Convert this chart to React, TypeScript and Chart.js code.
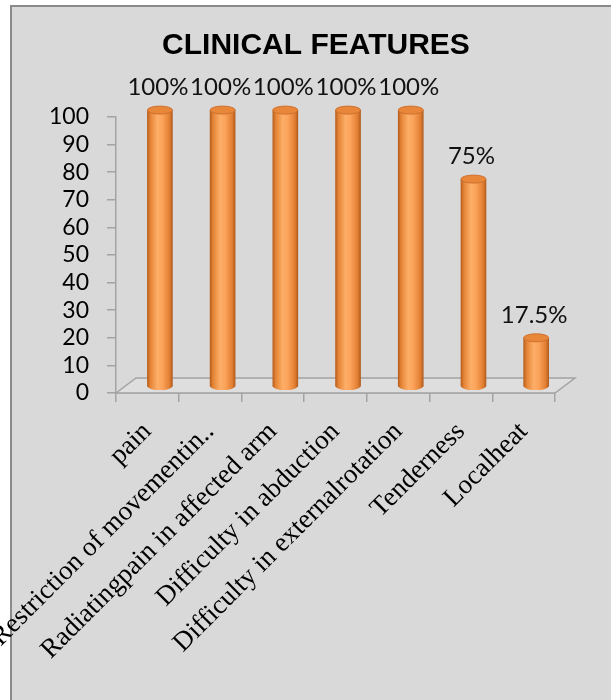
import React, { useEffect, useRef } from 'react';
import { Chart, registerables } from 'chart.js';

Chart.register(...registerables);

const chartTitle = 'CLINICAL FEATURES';
const categories = [
  'pain',
  'Restriction of movementin..',
  'Radiatingpain in affected arm',
  'Difficulty in abduction',
  'Difficulty in externalrotation',
  'Tenderness',
  'Localheat',
];
const values = [100, 100, 100, 100, 100, 75, 17.5];
const valueLabels = ['100%', '100%', '100%', '100%', '100%', '75%', '17.5%'];
const yMin = 0;
const yMax = 100;
const yStep = 10;

// 3D look: bars sit a bit behind the front axis
const BAR_SHIFT_CAT = 0.2; // fraction of a category
const BAR_LIFT_UNITS = 2.5; // value units
const DEPTH_X = 20;
const DEPTH_Y = 15;
const BAR_W = 25;

function barGradient(ctx: CanvasRenderingContext2D, cx: number, w: number) {
  const g = ctx.createLinearGradient(cx - w / 2, 0, cx + w / 2, 0);
  g.addColorStop(0, '#b9601f');
  g.addColorStop(0.12, '#e48436');
  g.addColorStop(0.4, '#fdae68');
  g.addColorStop(0.6, '#fba35a');
  g.addColorStop(0.88, '#e27f33');
  g.addColorStop(1, '#b35d1f');
  return g;
}

const floorPlugin = {
  id: 'floor3d',
  beforeDatasetsDraw(chart: any) {
    const { ctx, chartArea } = chart;
    const ys = chart.scales.y;
    const y0 = ys.getPixelForValue(0);
    const l = chartArea.left;
    const r = chartArea.right;
    ctx.save();
    ctx.beginPath();
    ctx.moveTo(l, y0);
    ctx.lineTo(l + DEPTH_X, y0 - DEPTH_Y);
    ctx.lineTo(r + DEPTH_X, y0 - DEPTH_Y);
    ctx.lineTo(r, y0);
    ctx.closePath();
    ctx.fillStyle = '#dedede';
    ctx.fill();
    ctx.strokeStyle = '#a3a3a3';
    ctx.lineWidth = 1.5;
    ctx.stroke();
    ctx.restore();
  },
};

const cylinderPlugin = {
  id: 'cylinder',
  afterDatasetsDraw(chart: any) {
    const { ctx } = chart;
    const meta = chart.getDatasetMeta(0);
    ctx.save();
    meta.data.forEach((el: any, i: number) => {
      const { x, y, base, width } = el.getProps(['x', 'y', 'base', 'width'], true);
      const rx = width / 2;
      const ry = 4;
      ctx.beginPath();
      ctx.ellipse(x, base, rx, ry, 0, 0, Math.PI);
      ctx.fillStyle = barGradient(ctx, x, width);
      ctx.fill();
      ctx.beginPath();
      ctx.ellipse(x, y, rx, ry, 0, 0, Math.PI * 2);
      ctx.fillStyle = '#e8873a';
      ctx.fill();
      ctx.strokeStyle = '#cf7030';
      ctx.lineWidth = 1;
      ctx.stroke();
      ctx.fillStyle = '#111';
      ctx.font = '24px Lato';
      ctx.textAlign = 'center';
      ctx.textBaseline = 'middle';
      ctx.fillText(valueLabels[i], x - 2, y - 23);
    });
    ctx.restore();
  },
};

export default function App() {
  const ref = useRef<HTMLCanvasElement>(null);

  useEffect(() => {
    if (!ref.current) return;
    const chart = new Chart(ref.current, {
      type: 'bar',
      data: {
        labels: categories,
        datasets: [
          {
            data: values.map((v, i) => ({ x: i, y: v })) as any,
            xAxisID: 'xb',
            yAxisID: 'yb',
            barThickness: BAR_W,
            borderWidth: 0,
            clip: false as any,
            backgroundColor: (c: any) => {
              const xs = c.chart.scales.xb;
              if (!xs || c.dataIndex == null) return '#f79646';
              const cx = xs.getPixelForValue(c.dataIndex);
              if (!isFinite(cx)) return '#f79646';
              return barGradient(c.chart.ctx, cx, BAR_W);
            },
          },
        ],
      },
      options: {
        responsive: false,
        animation: false,
        layout: { padding: { left: 21, right: 0, top: 0, bottom: 0 } },
        plugins: {
          legend: { display: false },
          tooltip: { enabled: false },
          title: {
            display: true,
            text: chartTitle,
            color: '#000',
            font: { family: 'Liberation Sans', size: 30, weight: 'bold' },
            padding: { top: 28, bottom: 53 },
          },
        },
        scales: {
          x: {
            type: 'category',
            offset: true,
            grid: {
              offset: true,
              drawOnChartArea: false,
              drawTicks: true,
              tickLength: 9,
              color: '#a3a3a3',
              lineWidth: 1.5,
            },
            border: { color: '#a3a3a3', width: 1.5 },
            ticks: {
              autoSkip: false,
              minRotation: 45,
              maxRotation: 45,
              padding: 14,
              color: '#000',
              font: { family: 'Liberation Serif', size: 27 },
            },
            afterFit: (s: any) => {
              s.height = 307;
            },
          },
          xb: {
            type: 'linear',
            display: false,
            offset: false,
            min: -0.5 - BAR_SHIFT_CAT,
            max: categories.length - 0.5 - BAR_SHIFT_CAT,
            grid: { display: false },
          },
          y: {
            type: 'linear',
            position: 'left',
            min: yMin,
            max: yMax,
            grid: {
              drawOnChartArea: false,
              drawTicks: true,
              tickLength: 9,
              color: '#a3a3a3',
              lineWidth: 1.5,
            },
            border: { color: '#a3a3a3', width: 1.5 },
            ticks: {
              stepSize: yStep,
              autoSkip: false,
              padding: 18,
              color: '#000',
              font: { family: 'Lato', size: 23 },
            },
            afterFit: (s: any) => {
              s.width = 95;
            },
          },
          yb: {
            type: 'linear',
            display: false,
            min: yMin - BAR_LIFT_UNITS,
            max: yMax - BAR_LIFT_UNITS,
            grid: { display: false },
          },
          spacer: {
            type: 'linear',
            position: 'right',
            display: true,
            ticks: { display: false },
            grid: { display: false },
            border: { display: false },
            afterFit: (s: any) => {
              s.width = 56;
            },
          },
        },
      } as any,
      plugins: [floorPlugin, cylinderPlugin],
    });
    return () => chart.destroy();
  }, []);

  return (
    <div style={{ position: 'absolute', left: 0, top: 0, width: 611, height: 700, overflow: 'hidden' }}>
      <div
        style={{
          position: 'absolute',
          left: 10,
          top: 5,
          width: 601,
          height: 695,
          background: '#d9d9d9',
          borderLeft: '2px solid #8a8a8a',
          borderTop: '2px solid #8a8a8a',
          boxSizing: 'border-box',
        }}
      />
      <canvas
        ref={ref}
        width={611}
        height={700}
        style={{ position: 'absolute', left: 0, top: 0, width: 611, height: 700 }}
      />
    </div>
  );
}
